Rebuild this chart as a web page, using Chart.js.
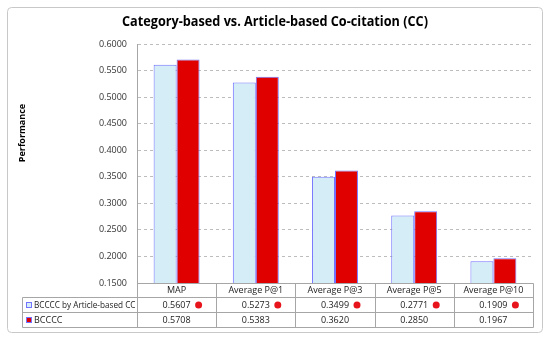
<!DOCTYPE html>
<html>
<head>
<meta charset="utf-8">
<script src="https://cdn.jsdelivr.net/npm/chart.js@4"></script>
<style>
    html, body { margin: 0; padding: 0; background: #ffffff; }
    #wrap { width: 550px; height: 338px; }
</style>
</head>
<body>
<div id="wrap"><canvas id="ccChart" width="550" height="338"></canvas></div>
<script>
// Data
const categories = ['MAP', 'Average P@1', 'Average P@3', 'Average P@5', 'Average P@10'];
const seriesNames = ['BCCCC by Article-based CC', 'BCCCC'];
const articleBasedValues = [0.5607, 0.5273, 0.3499, 0.2771, 0.1909];
const bccccValues = [0.5708, 0.5383, 0.3620, 0.2850, 0.1967];
const yTicks = [0.15, 0.20, 0.25, 0.30, 0.35, 0.40, 0.45, 0.50, 0.55, 0.60];

const titleText = 'Category-based vs. Article-based Co-citation (CC)';
const FONT = '"Open Sans", "DejaVu Sans", sans-serif';

const LIGHT_BLUE = '#d4edf6';
const RED = '#e00000';
const BAR_BORDER = '#7373ff';
const LINE_GREY = '#a6a6a6';

// Draws frame, title, axis title and the data table under the plot
const tablePlugin = {
    id: 'dataTable',
    afterDraw(chart) {
        const ctx = chart.ctx;
        const area = chart.chartArea;
        const xs = chart.scales.x;

        // outer frame
        ctx.save();
        ctx.strokeStyle = '#c8c8c8';
        ctx.lineWidth = 1;
        ctx.beginPath();
        ctx.roundRect(7.5, 7.5, 535, 325, 4);
        ctx.stroke();

        // title
        ctx.fillStyle = '#000000';
        ctx.font = 'bold 15px ' + FONT;
        ctx.textAlign = 'center';
        ctx.textBaseline = 'middle';
        ctx.fillText(titleText, 275, 22, 306);

        // y axis title
        ctx.save();
        ctx.translate(22, 133);
        ctx.rotate(-Math.PI / 2);
        ctx.font = 'bold 9px ' + FONT;
        ctx.fillText('Performance', 0, 0);
        ctx.restore();

        // table geometry
        const colW = xs.getPixelForValue(1) - xs.getPixelForValue(0);
        const left = 22.5;
        const plotLeft = Math.round(area.left) + 0.5;
        const right = Math.round(xs.getPixelForValue(categories.length - 1) + colW / 2) + 0.5;
        const rowTops = [Math.round(area.bottom) + 0.5, 297.5, 312.5, 327.5];

        ctx.strokeStyle = LINE_GREY;
        ctx.lineWidth = 1;
        ctx.beginPath();
        // header row lines (starts at plot left)
        ctx.moveTo(plotLeft, rowTops[0]);
        ctx.lineTo(right, rowTops[0]);
        for (let r = 1; r < rowTops.length; r++) {
            ctx.moveTo(left, rowTops[r]);
            ctx.lineTo(right, rowTops[r]);
        }
        // vertical lines
        ctx.moveTo(left, rowTops[1]);
        ctx.lineTo(left, rowTops[3]);
        for (let i = 0; i <= categories.length; i++) {
            const x = Math.round(xs.getPixelForValue(i) - colW / 2) + 0.5;
            ctx.moveTo(x, rowTops[0]);
            ctx.lineTo(x, rowTops[3]);
        }
        ctx.stroke();

        ctx.font = '9px ' + FONT;
        ctx.fillStyle = '#222222';
        ctx.textBaseline = 'middle';

        // header labels
        ctx.textAlign = 'center';
        categories.forEach((c, i) => {
            ctx.fillText(c, xs.getPixelForValue(i), (rowTops[0] + rowTops[1]) / 2);
        });

        // series rows
        const rows = [
            { name: seriesNames[0], values: articleBasedValues, fill: LIGHT_BLUE, dot: true },
            { name: seriesNames[1], values: bccccValues, fill: RED, dot: false }
        ];
        rows.forEach((row, r) => {
            const cy = (rowTops[r + 1] + rowTops[r + 2]) / 2;
            // legend key
            ctx.fillStyle = row.fill;
            ctx.fillRect(26, cy - 3, 6, 6);
            ctx.strokeStyle = BAR_BORDER;
            ctx.strokeRect(26.5, cy - 2.5, 5, 5);
            ctx.fillStyle = '#222222';
            ctx.textAlign = 'left';
            ctx.fillText(row.name, 34, cy, plotLeft - 36);

            ctx.textAlign = 'center';
            row.values.forEach((v, i) => {
                const cx = xs.getPixelForValue(i);
                ctx.fillStyle = '#222222';
                ctx.fillText(v.toFixed(4), cx, cy);
                if (row.dot) {
                    ctx.fillStyle = '#e8141c';
                    ctx.beginPath();
                    ctx.arc(cx + 22, cy, 3.5, 0, Math.PI * 2);
                    ctx.fill();
                }
            });
        });
        ctx.restore();
    }
};

const ctx = document.getElementById('ccChart').getContext('2d');
new Chart(ctx, {
    type: 'bar',
    data: {
        labels: categories,
        datasets: [{
            label: seriesNames[0],
            data: articleBasedValues,
            backgroundColor: LIGHT_BLUE,
            borderColor: BAR_BORDER,
            borderWidth: 1,
            categoryPercentage: 0.58,
            barPercentage: 1.0
        }, {
            label: seriesNames[1],
            data: bccccValues,
            backgroundColor: RED,
            borderColor: BAR_BORDER,
            borderWidth: 1,
            categoryPercentage: 0.58,
            barPercentage: 1.0
        }]
    },
    options: {
        responsive: false,
        animation: false,
        layout: { padding: { top: 44, right: 17, bottom: 55, left: 0 } },
        plugins: {
            legend: { display: false },
            title: { display: false },
            tooltip: { enabled: false }
        },
        scales: {
            x: {
                ticks: { display: false },
                grid: { display: false },
                border: { display: false },
                afterFit(scale) { scale.height = 0; }
            },
            y: {
                min: yTicks[0],
                max: yTicks[yTicks.length - 1],
                afterFit(scale) { scale.width = 137; },
                afterBuildTicks(scale) {
                    scale.ticks = yTicks.map(v => ({ value: v }));
                },
                ticks: {
                    padding: 10,
                    color: '#333333',
                    font: { family: FONT, size: 9 },
                    callback: v => Number(v).toFixed(4)
                },
                grid: { color: '#bdbdbd', drawTicks: false },
                border: { display: true, color: LINE_GREY, dash: [3, 3] }
            }
        }
    },
    plugins: [tablePlugin]
});
</script>
</body>
</html>
